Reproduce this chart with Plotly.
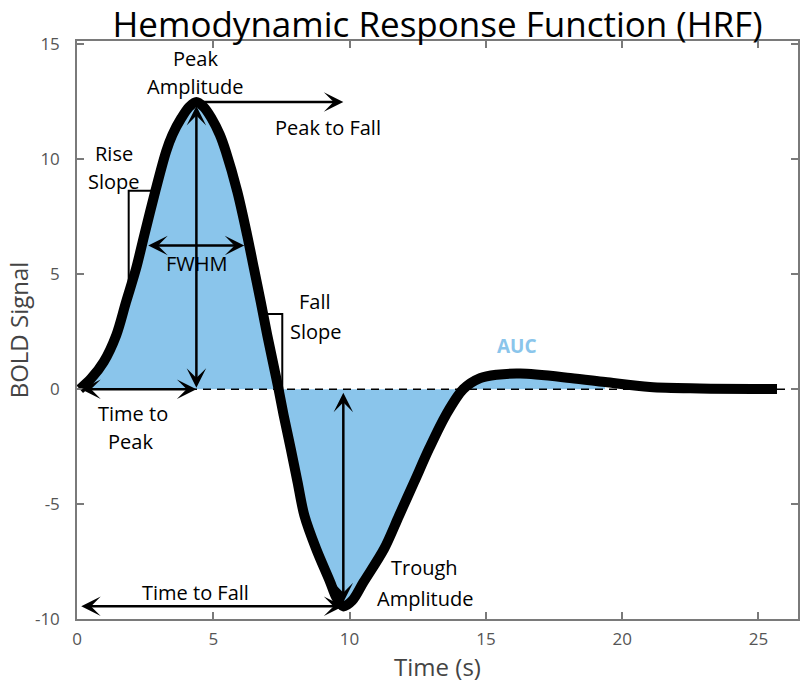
import numpy as np
import plotly.graph_objects as go

# ---------------- data ----------------
time_s = [0.1, 0.52, 0.98, 1.44, 1.80, 2.17, 2.47, 2.87, 3.27, 3.50,
          3.83, 4.12, 4.38, 4.64, 4.93, 5.24, 5.46, 5.88, 6.24, 6.49,
          6.74, 6.98, 7.39, 7.58, 7.84, 8.09, 8.34, 8.77, 9.29, 9.51,
          9.77, 10.10, 10.51, 11.27, 11.82, 12.37, 12.92, 13.53, 14.17, 14.79,
          15.40, 16.26, 18.09, 19.37, 21.02, 22.85, 25.68]
bold_signal = [0.0, 0.47, 1.19, 2.35, 3.80, 5.26, 6.71, 8.60, 10.34, 11.07,
               11.80, 12.29, 12.50, 12.29, 11.80, 11.07, 10.34, 8.60, 6.71, 5.26,
               3.80, 2.35, 0.03, -1.13, -2.58, -4.04, -5.49, -6.94, -8.40, -9.05,
               -9.45, -9.20, -8.40, -6.94, -5.49, -4.04, -2.58, -1.13, 0.0, 0.48,
               0.63, 0.68, 0.49, 0.31, 0.09, 0.03, 0.01]

auc_end_s = 19.4                 # shaded area stops here
rise_slope_levels = [4.18, 8.63]
fall_slope_levels = [3.27, -0.83]
zero_line_span = [0.0, 26.1]

x_tick_vals = [0, 5, 10, 15, 20, 25]
x_tick_text = ["0", "5", "10", "15", "20", "25"]
y_tick_vals = [-10, -5, 0, 5, 10, 15]
y_tick_text = ["-10", "-5", "0", "5", "10", "15"]

# ---------------- derived measures ----------------
t = np.array(time_s)
b = np.array(bold_signal)
ip = int(np.argmax(b))
it = int(np.argmin(b))
t0 = t[0]
t_peak, a_peak = t[ip], b[ip]
t_trough, a_trough = t[it], b[it]

rise_t, rise_b = t[:ip + 1], b[:ip + 1]
fall_t, fall_b = t[ip:it + 1][::-1], b[ip:it + 1][::-1]

half = a_peak / 2.0
t_half_rise = float(np.interp(half, rise_b, rise_t))
t_half_fall = float(np.interp(half, fall_b, fall_t))

rx0 = float(np.interp(rise_slope_levels[0], rise_b, rise_t))
rx1 = float(np.interp(rise_slope_levels[1], rise_b, rise_t))
fx0 = float(np.interp(fall_slope_levels[0], fall_b, fall_t))
fx1 = float(np.interp(fall_slope_levels[1], fall_b, fall_t))

mask = t <= auc_end_s

FILL = "#8AC5EB"
FONT = "Open Sans"
AXIS_GREY = "#7a7a7a"
SMOOTH = 0.9

fig = go.Figure()

fig.add_trace(go.Scatter(x=t[mask], y=b[mask], mode="lines",
                         line=dict(width=0, shape="spline", smoothing=SMOOTH, color=FILL),
                         fill="tozeroy", fillcolor=FILL, hoverinfo="skip"))
fig.add_trace(go.Scatter(x=zero_line_span, y=[0, 0], mode="lines",
                         line=dict(color="black", width=1.5, dash="8px,6px"),
                         hoverinfo="skip"))
fig.add_trace(go.Scatter(x=[rx0, rx0, rx1],
                         y=[rise_slope_levels[0], rise_slope_levels[1], rise_slope_levels[1]],
                         mode="lines", line=dict(color="black", width=2)))
fig.add_trace(go.Scatter(x=[fx0, fx1, fx1],
                         y=[fall_slope_levels[0], fall_slope_levels[0], fall_slope_levels[1]],
                         mode="lines", line=dict(color="black", width=2)))
fig.add_trace(go.Scatter(x=t, y=b, mode="lines",
                         line=dict(color="black", width=10, shape="spline", smoothing=SMOOTH)))


def arrow(x_tail, y_tail, x_head, y_head, both=True, standoff=0, startstandoff=0):
    fig.add_annotation(x=x_head, y=y_head, ax=x_tail, ay=y_tail,
                       xref="x", yref="y", axref="x", ayref="y",
                       text="", showarrow=True,
                       arrowhead=3, startarrowhead=3,
                       arrowsize=1.3, startarrowsize=1.3,
                       arrowwidth=2.5, arrowcolor="black",
                       arrowside="end+start" if both else "end",
                       standoff=standoff, startstandoff=startstandoff)


arrow(t_peak, 0, t_peak, a_peak, standoff=4)               # peak amplitude
arrow(t0, 0, t_peak, 0)                                    # time to peak
arrow(t_half_rise, half, t_half_fall, half, standoff=5, startstandoff=5)  # FWHM
arrow(t_peak, a_peak, t_trough, a_peak, both=False)        # peak to fall
arrow(t0, a_trough, t_trough, a_trough)                    # time to fall
arrow(t_trough, 0, t_trough, a_trough, standoff=4, startstandoff=2)  # trough amplitude


def label(x, y, text, color="black", bold=False, size=20):
    fig.add_annotation(x=x, y=y, xref="x", yref="y", text=f"<b>{text}</b>" if bold else text,
                       showarrow=False, xanchor="center", yanchor="middle",
                       font=dict(family=FONT, size=size, color=color))


label(4.33, 14.41, "Peak")
label(4.33, 13.15, "Amplitude")
label(9.20, 11.37, "Peak to Fall")
label(1.36, 10.26, "Rise")
label(1.36, 9.02, "Slope")
label(4.41, 5.49, "FWHM")
label(8.74, 3.81, "Fall")
label(8.77, 2.53, "Slope")
label(2.04, -1.04, "Time to")
label(1.98, -2.26, "Peak")
label(4.33, -8.83, "Time to Fall")
label(12.74, -7.76, "Trough")
label(12.78, -9.09, "Amplitude")
label(16.15, 1.86, "AUC", color=FILL, bold=True, size=19)

axis_common = dict(showline=True, linecolor=AXIS_GREY, linewidth=1.5, mirror="ticks",
                   ticks="inside", ticklen=7, tickwidth=1.5, tickcolor=AXIS_GREY,
                   showgrid=False, zeroline=False, automargin=False,
                   tickfont=dict(family=FONT, size=17, color="#555555"))

fig.update_layout(
    width=800, height=683,
    margin=dict(l=77, r=2, t=41, b=64),
    paper_bgcolor="white", plot_bgcolor="white",
    showlegend=False,
    title=dict(text="Hemodynamic Response Function (HRF)", x=0.5, xref="paper",
               y=0.9634, yref="container", yanchor="middle", xanchor="center",
               font=dict(family=FONT, size=35, color="black")),
    xaxis=dict(range=[0, 26.45], tickvals=x_tick_vals, ticktext=x_tick_text,
               ticklabelstandoff=4,
               title=dict(text="Time (s)", standoff=0,
                          font=dict(family=FONT, size=24, color="#444444")),
               **axis_common),
    yaxis=dict(range=[-10, 15.15], tickvals=y_tick_vals, ticktext=y_tick_text,
               ticklabelstandoff=12,
               title=dict(text="BOLD Signal", standoff=0,
                          font=dict(family=FONT, size=24, color="#444444")),
               **axis_common),
)

fig.write_html("out.html", config={"displayModeBar": False},
               post_script="document.body.style.margin='0';")
